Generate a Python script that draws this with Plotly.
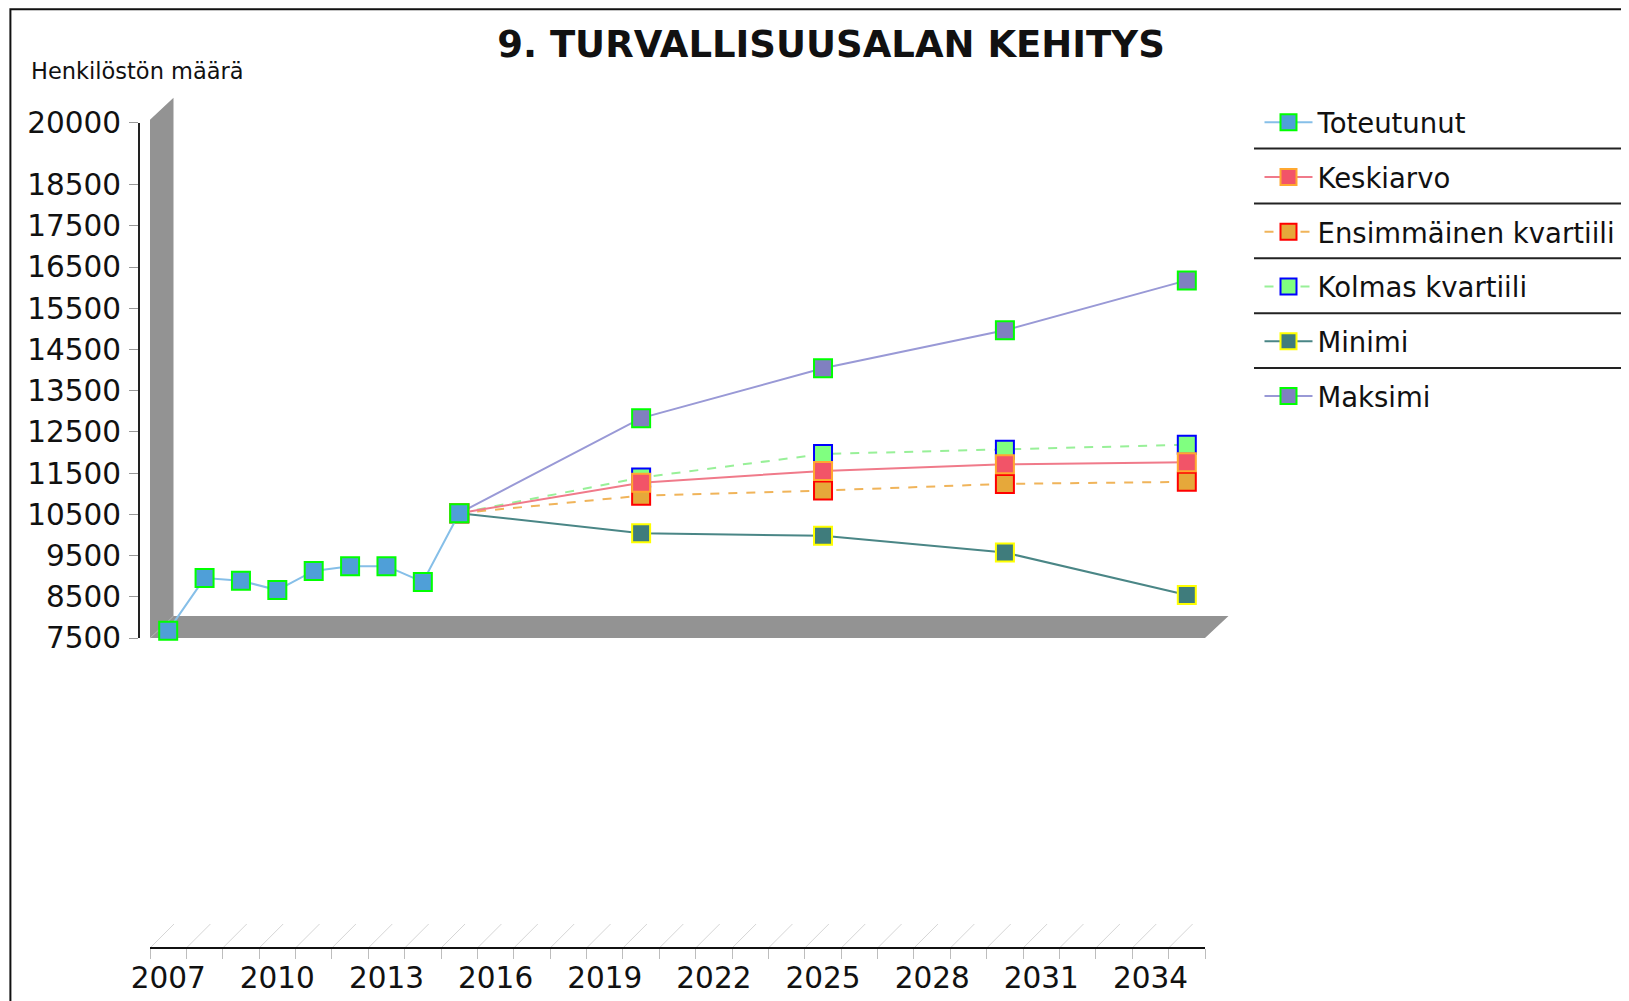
import plotly.graph_objects as go

# ---------------- data ----------------
hist_years = [2007, 2008, 2009, 2010, 2011, 2012, 2013, 2014, 2015]
toteutunut = [7680, 8955, 8890, 8665, 9130, 9245, 9245, 8860, 10530]

fc_years = [2015, 2020, 2025, 2030, 2035]
keskiarvo = [10530, 11270, 11555, 11715, 11765]
ensimmainen_kv = [10530, 10955, 11080, 11240, 11290]
kolmas_kv = [10530, 11395, 11965, 12070, 12190]
minimi = [10530, 10045, 9980, 9575, 8545]
maksimi = [10530, 12835, 14045, 14965, 16175]

x_ticklabels = [2007, 2010, 2013, 2016, 2019, 2022, 2025, 2028, 2031, 2034]
y_tickvals = [7500, 8500, 9500, 10500, 11500, 12500, 13500, 14500, 15500, 16500, 17500, 18500, 20000]

# ---------------- layout geometry (figure px; page px minus 8 px body margin) ----------------
W_FIG, H_FIG = 1629, 1001
OFF = 8
L, R, T, B = 139 - OFF, 1205 - OFF, 72, 948.3 - OFF
X0_PX = 150 - OFF            # x axis start
Y_TOP_PX, Y_BOT_PX = 122.7 - OFF, 638.3 - OFF
DEPTH_X, DEPTH_Y = 23.5, 22


def px_x(px):
    return (px - L) / (R - L)


def px_y(py):
    return (B - py) / (B - T)


FONT = "DejaVu Sans"

series = [
    # name, x, y, line color, dash, marker fill, marker border, legend rank
    ("Maksimi", fc_years, maksimi, "#9999d6", "solid", "#8080c0", "#00ff00", 6),
    ("Minimi", fc_years, minimi, "#4a8686", "solid", "#3f7c7c", "#ffff00", 5),
    ("Kolmas kvartiili", fc_years, kolmas_kv, "#98f098", "dash", "#80ff80", "#0000ff", 4),
    ("Ensimmäinen kvartiili", fc_years, ensimmainen_kv, "#f0b45a", "dash", "#e6a83a", "#ff0000", 3),
    ("Keskiarvo", fc_years, keskiarvo, "#f07a8a", "solid", "#f25468", "#ffa830", 2),
    ("Toteutunut", hist_years, toteutunut, "#86bfe8", "solid", "#4f9fd8", "#00ff00", 1),
]

fig = go.Figure()
for name, xs, ys, lc, dash, mf, mb, rank in series:
    fig.add_trace(go.Scatter(
        x=xs, y=ys, name=name, mode="lines+markers",
        legendgroup=name, legendrank=rank,
        line=dict(color=lc, width=2, dash=dash),
        marker=dict(symbol="square", size=18, color=mf, line=dict(color=mb, width=2)),
        cliponaxis=False,
    ))

shapes = []
# 3D wall + floor (decorative)
wall = [
    (X0_PX, Y_BOT_PX), (X0_PX, Y_TOP_PX - 3), (X0_PX + DEPTH_X, Y_TOP_PX - 3 - DEPTH_Y),
    (X0_PX + DEPTH_X, Y_BOT_PX - DEPTH_Y), (R + DEPTH_X, Y_BOT_PX - DEPTH_Y), (R, Y_BOT_PX),
]
path = "M " + " L ".join(f"{px_x(a):.5f},{px_y(b):.5f}" for a, b in wall) + " Z"
shapes.append(dict(type="path", path=path, xref="paper", yref="paper",
                   fillcolor="#939393", line=dict(width=0), layer="below"))
shapes.append(dict(type="line", xref="paper", yref="paper",
                   x0=px_x(X0_PX), y0=px_y(Y_BOT_PX), x1=px_x(X0_PX + DEPTH_X), y1=px_y(Y_BOT_PX - DEPTH_Y),
                   line=dict(color="#b8b8b8", width=1), layer="below"))

# slanted depth lines at the x axis
yr_px = (R - X0_PX) / 29
for i in range(30):
    b = 2006.5 + i
    shapes.append(dict(type="line", xref="x", yref="paper",
                       x0=b, y0=0, x1=b + 24 / yr_px, y1=24 / (B - T),
                       line=dict(color="#d6d6d6", width=1), layer="below"))

# legend separators
for k in range(5):
    yy = 148.6 - OFF + 54.9 * k
    shapes.append(dict(type="line", xref="paper", yref="paper",
                       x0=px_x(1254 - OFF), x1=px_x(1660), y0=px_y(yy), y1=px_y(yy),
                       line=dict(color="#222222", width=2)))

# outer frame
shapes.append(dict(type="rect", xref="paper", yref="paper",
                   x0=px_x(10.4 - OFF), y0=px_y(1030), x1=px_x(1680), y1=px_y(1.2),
                   line=dict(color="#111111", width=2), fillcolor="rgba(0,0,0,0)"))

fig.update_layout(
    width=W_FIG, height=H_FIG,
    margin=dict(l=L, r=W_FIG - R, t=T, b=H_FIG - B, pad=0, autoexpand=False),
    paper_bgcolor="white", plot_bgcolor="white",
    font=dict(family=FONT, color="#111111"),
    title=dict(text="9. TURVALLISUUSALAN KEHITYS", x=px_x(831 - OFF), xref="paper", xanchor="center",
               y=1 - (44 - OFF) / H_FIG, yref="container", yanchor="middle",
               font=dict(family=FONT, size=37, color="#111111", weight="bold")),
    shapes=shapes,
    showlegend=True,
    legend=dict(x=px_x(1251.5), xanchor="left", y=px_y(90), yanchor="top",
                font=dict(family=FONT, size=27.5, color="#111111"),
                itemwidth=48, tracegroupgap=16, traceorder="grouped",
                bgcolor="rgba(0,0,0,0)", borderwidth=0),
    annotations=[dict(text="Henkilöstön määrä", xref="paper", yref="paper",
                      x=px_x(29 - OFF), y=px_y(71 - OFF), xanchor="left", yanchor="middle",
                      showarrow=False, font=dict(family=FONT, size=22.5, color="#111111"))],
)

fig.update_xaxes(
    range=[2006.5, 2035.5], domain=[px_x(X0_PX), 1],
    anchor="free", position=0,
    showline=True, linecolor="#111111", linewidth=2,
    showgrid=False, zeroline=False,
    tickmode="array", tickvals=x_ticklabels, ticktext=[str(v) for v in x_ticklabels],
    ticks="", ticklabelstandoff=4,
    tickfont=dict(family=FONT, size=29.5, color="#111111"),
    minor=dict(ticks="outside", tick0=2006.5, dtick=1, ticklen=10, tickwidth=1,
               tickcolor="#bdbdbd", showgrid=False),
)
fig.update_yaxes(
    range=[7500, 20000], domain=[px_y(Y_BOT_PX), px_y(Y_TOP_PX)],
    anchor="free", position=0,
    showline=True, linecolor="#222222", linewidth=2,
    showgrid=False, zeroline=False,
    tickmode="array", tickvals=y_tickvals, ticktext=[str(v) for v in y_tickvals],
    ticks="outside", ticklen=9, tickwidth=1, tickcolor="#999999",
    ticklabelstandoff=2,
    tickfont=dict(family=FONT, size=29.5, color="#111111"),
)

fig.write_html("out.html")
